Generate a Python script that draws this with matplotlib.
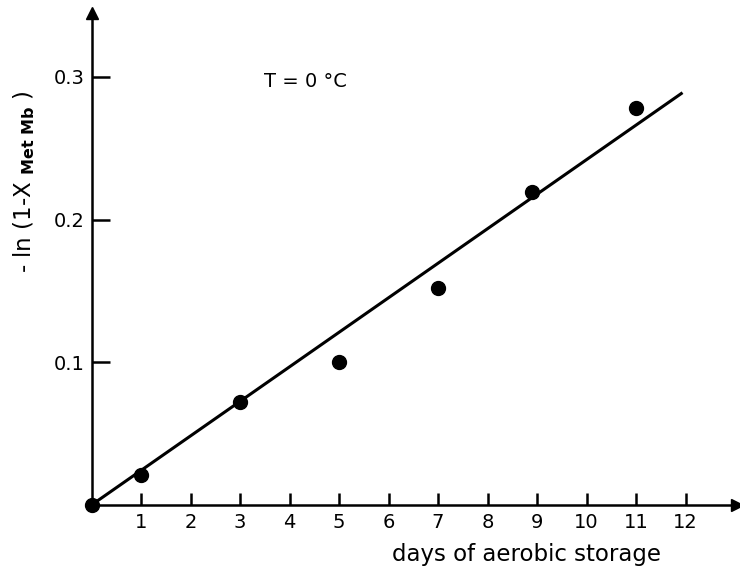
import matplotlib

matplotlib.use("Agg")

import matplotlib.pyplot as plt
import numpy as np

# Measured conversion of metmyoglobin during aerobic storage at 0 °C
days = [0, 1, 3, 5, 7, 8.9, 11]
ln_conv = [0.0, 0.021, 0.072, 0.100, 0.152, 0.219, 0.278]

# Fitted straight line through the origin
fit_days = [0, 11.94]
fit_slope = 0.0242

x_ticks = list(range(1, 13))
y_ticks = [0.1, 0.2, 0.3]

plt.rcParams["font.family"] = ["DejaVu Sans"]

fig = plt.figure(figsize=(7.4, 5.69), dpi=100)
W, H = 740, 569
x0_px, y0_px = 91.5, 505
px_per_day = 49.5
px_per_unit = 1427
x_max, y_max = 13.05, 0.345
ax = fig.add_axes([x0_px / W, (H - y0_px) / H,
                   x_max * px_per_day / W, y_max * px_per_unit / H])
ax.set_xlim(0, x_max)
ax.set_ylim(0, y_max)

for side in ("top", "right"):
    ax.spines[side].set_visible(False)
for side in ("left", "bottom"):
    ax.spines[side].set_linewidth(1.8)
    ax.spines[side].set_color("black")

# arrow heads at the ends of both axes
ax.plot(0, 1, marker="^", ms=8, color="black", transform=ax.transAxes, clip_on=False)
ax.plot(1, 0, marker=">", ms=8, color="black", transform=ax.transAxes, clip_on=False)

fit_x = np.array(fit_days)
ax.plot(fit_x, fit_slope * fit_x, color="black", lw=2.2, solid_capstyle="butt")
ax.plot(days, ln_conv, "o", color="black", ms=10, clip_on=False, zorder=3)

ax.set_xticks(x_ticks)
ax.set_xticklabels([str(t) for t in x_ticks])
ax.set_yticks(y_ticks)
ax.set_yticklabels([f"{t:.1f}" for t in y_ticks])
ax.tick_params(axis="x", direction="in", length=9, width=1.8, labelsize=14, pad=6)
ax.tick_params(axis="y", direction="in", length=13, width=1.8, labelsize=14, pad=5)

ax.text(3.48, 0.297, "T = 0 °C", fontsize=14, ha="left", va="center")

fig.text(526 / W, 1 - 555 / H, "days of aerobic storage", fontsize=16.5,
         ha="center", va="center")
fig.text(24 / W, 1 - 182 / H, r"- ln (1-X $_{\mathbf{Met\ Mb}}$ )", fontsize=16.5,
         rotation=90, ha="center", va="center")

fig.savefig("out.png", dpi=100, facecolor="white")
